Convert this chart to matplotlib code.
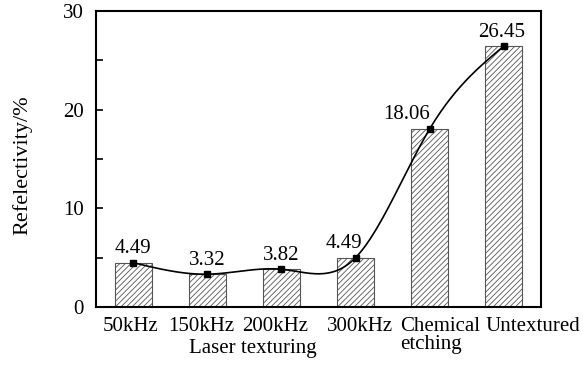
import numpy as np
import matplotlib.pyplot as plt
from matplotlib.transforms import ScaledTranslation

plt.rcParams['font.family'] = ['Liberation Serif', 'DejaVu Serif']
plt.rcParams['hatch.linewidth'] = 0.6
plt.rcParams['hatch.color'] = '#444444'

categories = ['50kHz', '150kHz', '200kHz', '300kHz', 'Chemical\netching', 'Untextured']
values = [4.49, 3.32, 3.82, 5.0, 18.06, 26.45]
value_labels = ['4.49', '3.32', '3.82', '4.49', '18.06', '26.45']
# horizontal nudges (px) of the labels, as in the original
label_shift = [-3, -6, -6, 4, 10, 29]
value_shift = [0, 0, 0, -12, -23, -2]


def natural_spline(x, y, xs):
    # natural cubic spline, solved directly with numpy
    x = np.asarray(x, float)
    y = np.asarray(y, float)
    n = len(x)
    h = np.diff(x)
    A = np.zeros((n, n))
    b = np.zeros(n)
    A[0, 0] = 1
    A[-1, -1] = 1
    for i in range(1, n - 1):
        A[i, i - 1] = h[i - 1]
        A[i, i] = 2 * (h[i - 1] + h[i])
        A[i, i + 1] = h[i]
        b[i] = 3 * ((y[i + 1] - y[i]) / h[i] - (y[i] - y[i - 1]) / h[i - 1])
    c = np.linalg.solve(A, b)
    out = []
    for xv in xs:
        i = min(np.searchsorted(x, xv) - 1, n - 2)
        i = max(i, 0)
        d = (c[i + 1] - c[i]) / (3 * h[i])
        bb = (y[i + 1] - y[i]) / h[i] - h[i] * (2 * c[i] + c[i + 1]) / 3
        t = xv - x[i]
        out.append(y[i] + bb * t + c[i] * t**2 + d * t**3)
    return np.array(out)


fig = plt.figure(figsize=(5.83, 3.65), dpi=100)
ax = fig.add_axes([0.1647, 0.159, 0.7633, 0.811])

pos = np.arange(len(categories))
ax.bar(pos, values, width=0.5, color='white', edgecolor='#555555',
       linewidth=0.8, hatch='//////', zorder=2)

xs = np.linspace(0, len(values) - 1, 300)
ax.plot(xs, natural_spline(pos, values, xs), color='black', lw=1.2, zorder=3)
ax.plot(pos, values, 's', color='black', ms=4, zorder=4)

fs = 15
for p, v, lab, dx in zip(pos, values, value_labels, value_shift):
    tr = ax.transData + ScaledTranslation(dx / 100, 0, fig.dpi_scale_trans)
    ax.text(p, v + 0.45, lab, transform=tr, ha='center', va='bottom', fontsize=fs)

ax.set_xlim(-0.5, 5.5)
ax.set_ylim(0, 30)
ax.set_yticks([0, 10, 20, 30])
ax.set_yticks([5, 15, 25], minor=True)
ax.set_xticks(pos)
ax.set_xticklabels([])
ax.tick_params(axis='y', labelsize=fs, pad=9)
ax.tick_params(direction='in', length=5, width=1.2)
ax.tick_params(which='minor', direction='in', length=5, width=1.2)
for s in ax.spines.values():
    s.set_linewidth(1.5)

# category labels drawn by hand so they can be nudged like the original
top_y = (307 - 317) / 296
for p, cat, dx in zip(pos, categories, label_shift):
    tr = ax.get_xaxis_transform() + ScaledTranslation(dx / 100, 0, fig.dpi_scale_trans)
    ax.text(p, top_y, cat, transform=tr, ha='center', va='top',
            multialignment='left', linespacing=0.92, fontsize=fs, clip_on=False)

ax.set_ylabel('Refelectivity/%', fontsize=16)
ax.yaxis.set_label_coords(-0.142, 0.48)
fig.text(0.434, 1 - 353 / 365, 'Laser texturing', ha='center', va='baseline',
         fontsize=fs)

fig.savefig('out.png', dpi=100)
